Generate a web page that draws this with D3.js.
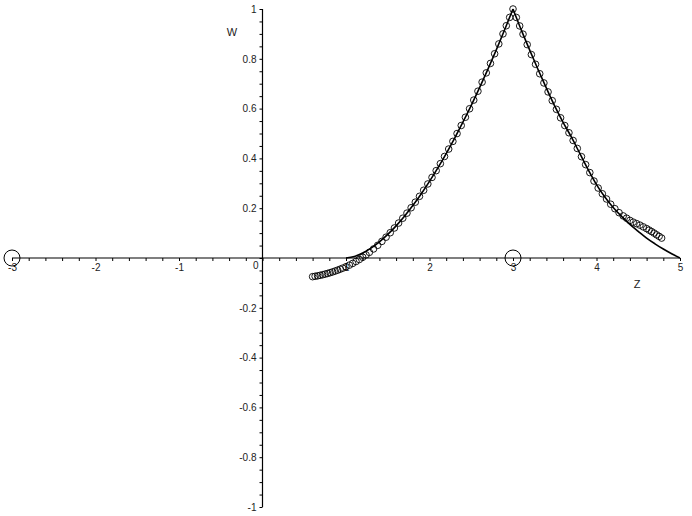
<!DOCTYPE html>
<html>
<head>
<meta charset="utf-8">
<script src="https://cdn.jsdelivr.net/npm/d3@7"></script>
<style>
  html, body { margin: 0; padding: 0; background: #fff; }
  svg { display: block; }
  text { font-family: "Liberation Sans", Arial, sans-serif; }
</style>
</head>
<body>
<svg id="chart" width="692" height="516"></svg>
<script>
// ---- data ----
const xTickLabels = [-3, -2, -1, 1, 2, 3, 4, 5];
const yTickLabels = [-1, -0.8, -0.6, -0.4, -0.2, 0.2, 0.4, 0.6, 0.8, 1];
const axisLabels = ["Z", "W"];

// solid curve, left branch (z from 1 to 3)
const lineLeftZ = [1.0, 1.1, 1.2, 1.3, 1.4, 1.5, 1.6, 1.7, 1.8, 1.9, 2.0, 2.1, 2.2, 2.3, 2.4, 2.5, 2.6, 2.7, 2.8, 2.9, 3.0];
const lineLeftW = [0, 0.0061, 0.0200, 0.0397, 0.0648, 0.0947, 0.1291, 0.1678, 0.2106, 0.2573, 0.3078, 0.3619, 0.4196, 0.4808, 0.5454, 0.6132, 0.6843, 0.7586, 0.836, 0.9165, 1.0];
// solid curve, right branch (z from 3 to 5)
const lineRightZ = [3.0, 3.1, 3.2, 3.3, 3.4, 3.5, 3.6, 3.7, 3.8, 3.9, 4.0, 4.1, 4.2, 4.3, 4.4, 4.5, 4.6, 4.7, 4.8, 4.9, 5.0];
const lineRightW = [1.0, 0.915, 0.835, 0.757, 0.682, 0.61, 0.545, 0.485, 0.42, 0.355, 0.295, 0.245, 0.203, 0.167, 0.135, 0.107, 0.08, 0.057, 0.036, 0.017, 0];

// circle markers
const circleZ = [0.60, 0.63, 0.66, 0.69, 0.72, 0.75, 0.78, 0.81, 0.84, 0.87, 0.90, 0.93, 0.96, 1.00,
  1.04, 1.08, 1.12, 1.16, 1.20, 1.24, 1.28, 1.33, 1.38, 1.43, 1.48, 1.53, 1.58, 1.63, 1.68, 1.73,
  1.78, 1.83, 1.88, 1.93, 1.98, 2.03, 2.08, 2.13, 2.18, 2.23, 2.28, 2.33, 2.38, 2.43, 2.48, 2.53,
  2.58, 2.63, 2.68, 2.73, 2.78, 2.83, 2.88, 2.92, 2.96, 3.00,
  3.04, 3.08, 3.12, 3.17, 3.22, 3.27, 3.32, 3.37, 3.42, 3.47, 3.52, 3.57, 3.62, 3.67, 3.72, 3.77,
  3.82, 3.87, 3.92, 3.97, 4.02, 4.07, 4.12, 4.17, 4.22, 4.27, 4.32, 4.36, 4.40, 4.44, 4.48, 4.52,
  4.56, 4.60, 4.63, 4.66, 4.69, 4.72, 4.75, 4.78];
const circleW = [-0.075, -0.0734, -0.0716, -0.0695, -0.0672, -0.0647, -0.0620, -0.0590, -0.0558, -0.0524, -0.0488, -0.0449, -0.0408, -0.035,
  -0.0287, -0.0217, -0.0141, -0.0059, 0.003, 0.0125, 0.0227, 0.0363, 0.0510, 0.0668, 0.0836, 0.1016, 0.1206, 0.1403, 0.1598, 0.1802,
  0.2018, 0.2242, 0.2477, 0.2721, 0.2974, 0.3236, 0.3508, 0.3789, 0.4078, 0.4376, 0.4683, 0.4998, 0.5322, 0.5653, 0.5994, 0.6342,
  0.6699, 0.7063, 0.7435, 0.7815, 0.8203, 0.8598, 0.9001, 0.9329, 0.9663, 1.0,
  0.966, 0.932, 0.899, 0.857, 0.817, 0.778, 0.740, 0.703, 0.667, 0.632, 0.597, 0.563, 0.532, 0.503, 0.472, 0.440,
  0.407, 0.375, 0.343, 0.309, 0.281, 0.258, 0.237, 0.216, 0.198, 0.182, 0.169, 0.160, 0.151, 0.144, 0.138, 0.132,
  0.125, 0.118, 0.112, 0.106, 0.100, 0.093, 0.087, 0.080];

// large circle markers on the Z axis
const bigZ = [-3, 3];
const bigW = [0, 0];

// ---- drawing ----
const svg = d3.select("#chart");
const x = d3.scaleLinear().domain([-3, 5]).range([12, 680]);
const y = d3.scaleLinear().domain([-1, 1]).range([507, 9]);

const fmt = v => String(+v.toFixed(2));
const near = (arr, v) => arr.some(a => Math.abs(a - v) < 1e-6);

// x axis
const xMinor = d3.range(-3, 5.0001, 0.2).map(v => +v.toFixed(2));
const xAxis = d3.axisBottom(x).tickValues(xMinor).tickSize(3).tickPadding(3)
  .tickFormat(v => near(xTickLabels, v) ? fmt(v) : "");
const gx = svg.append("g").attr("transform", `translate(0,${y(0)})`).call(xAxis);
gx.select(".domain").remove();
gx.selectAll("line").attr("stroke", "#000");
gx.selectAll("text").attr("font-size", 10).attr("fill", "#222");
svg.append("line").attr("x1", x(-3)).attr("x2", x(5)).attr("y1", y(0)).attr("y2", y(0))
  .attr("stroke", "#000").attr("stroke-width", 1.2);

// y axis
const yMinor = d3.range(-1, 1.0001, 0.05).map(v => +v.toFixed(2));
const yAxis = d3.axisLeft(y).tickValues(yMinor).tickSize(3).tickPadding(3)
  .tickFormat(v => near(yTickLabels, v) ? fmt(v) : "");
const gy = svg.append("g").attr("transform", `translate(${x(0)},0)`).call(yAxis);
gy.select(".domain").remove();
gy.selectAll("line").attr("stroke", "#000");
gy.selectAll("text").attr("font-size", 10).attr("fill", "#222");
svg.append("line").attr("x1", x(0)).attr("x2", x(0)).attr("y1", y(-1)).attr("y2", y(1))
  .attr("stroke", "#000").attr("stroke-width", 1.2);

// origin label
svg.append("text").attr("x", x(0) - 4).attr("y", y(0) + 4).attr("dy", "0.71em")
  .attr("text-anchor", "end").attr("font-size", 10).attr("fill", "#222").text("0");

// axis names
svg.append("text").attr("x", 637).attr("y", 288).attr("text-anchor", "middle")
  .attr("font-size", 11).attr("fill", "#222").text(axisLabels[0]);
svg.append("text").attr("x", 232).attr("y", 36).attr("text-anchor", "middle")
  .attr("font-size", 11).attr("fill", "#222").text(axisLabels[1]);

// solid curve
const line = d3.line().x(d => x(d[0])).y(d => y(d[1])).curve(d3.curveMonotoneX);
[[lineLeftZ, lineLeftW], [lineRightZ, lineRightW]].forEach(([zs, ws]) => {
  svg.append("path").datum(zs.map((z, i) => [z, ws[i]]))
    .attr("d", line).attr("fill", "none").attr("stroke", "#000").attr("stroke-width", 1.6);
});

// circle markers
svg.append("g").selectAll("circle").data(circleZ.map((z, i) => [z, circleW[i]]))
  .join("circle").attr("cx", d => x(d[0])).attr("cy", d => y(d[1])).attr("r", 3.3)
  .attr("fill", "none").attr("stroke", "#000").attr("stroke-width", 0.9);

// big markers
svg.append("g").selectAll("circle").data(bigZ.map((z, i) => [z, bigW[i]]))
  .join("circle").attr("cx", d => x(d[0])).attr("cy", d => y(d[1])).attr("r", 8)
  .attr("fill", "none").attr("stroke", "#000").attr("stroke-width", 1);
</script>
</body>
</html>
